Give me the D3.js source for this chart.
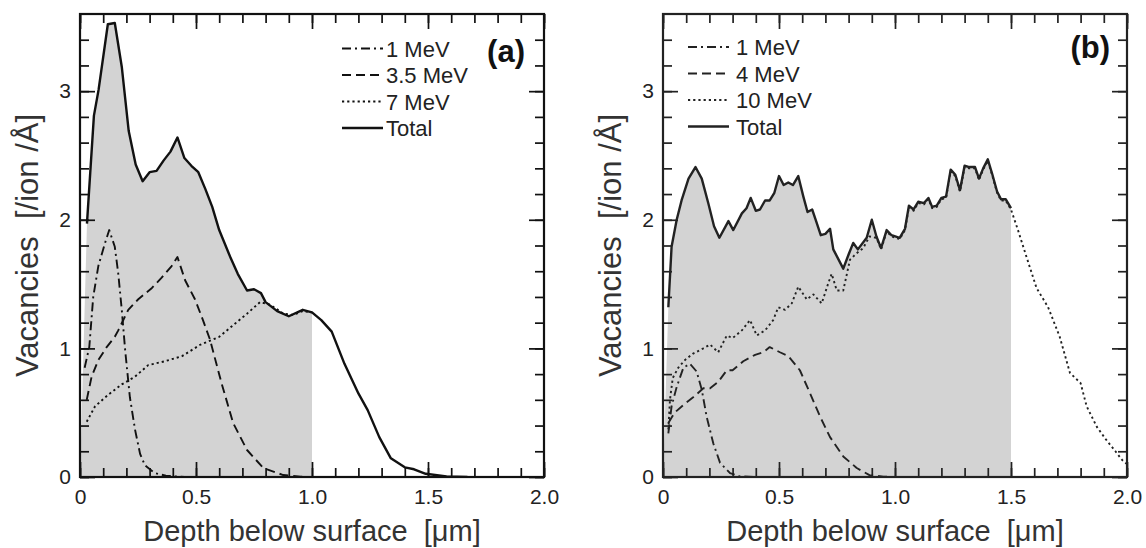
<!DOCTYPE html>
<html>
<head>
<meta charset="utf-8">
<script src="https://cdn.jsdelivr.net/npm/d3@7"></script>
<style>
    body { margin: 0; background: #fff; }
    svg { display: block; font-family: Arial, "Liberation Sans", sans-serif; }
</style>
</head>
<body>
<svg id="chart" width="1146" height="548"></svg>
<script>
// ---- panel (a) ----
var a1MeVX = [0.02, 0.04, 0.057, 0.079, 0.108, 0.126, 0.15, 0.165, 0.18, 0.195, 0.215, 0.237, 0.259, 0.28, 0.323, 0.37, 0.45];
var a1MeVY = [0.85, 1.01, 1.40, 1.64, 1.82, 1.92, 1.79, 1.58, 1.30, 0.98, 0.62, 0.37, 0.18, 0.09, 0.03, 0.01, 0.0];

var a35MeVX = [0.029, 0.05, 0.079, 0.115, 0.15, 0.165, 0.208, 0.25, 0.31, 0.352, 0.395, 0.42, 0.453, 0.496, 0.53, 0.56, 0.61, 0.66, 0.72, 0.79, 0.876, 0.95, 1.0];
var a35MeVY = [0.60, 0.78, 0.91, 1.01, 1.09, 1.14, 1.30, 1.38, 1.47, 1.55, 1.64, 1.71, 1.53, 1.38, 1.22, 1.07, 0.73, 0.42, 0.21, 0.07, 0.015, 0.003, 0.0];

var a7MeVX = [0.029, 0.065, 0.122, 0.18, 0.237, 0.294, 0.366, 0.44, 0.52, 0.60, 0.66, 0.72, 0.776, 0.82, 0.876, 0.92, 0.96, 1.0];
var a7MeVY = [0.43, 0.55, 0.64, 0.72, 0.78, 0.87, 0.90, 0.94, 1.03, 1.09, 1.18, 1.27, 1.36, 1.34, 1.27, 1.26, 1.29, 1.28];

var aTotalX = [0.03, 0.06, 0.08, 0.12, 0.15, 0.18, 0.21, 0.24, 0.27, 0.30, 0.33, 0.36, 0.39, 0.42, 0.45, 0.48, 0.51, 0.54, 0.57, 0.60,
    0.65, 0.68, 0.72, 0.75, 0.78, 0.80, 0.85, 0.90, 0.96, 1.00, 1.04, 1.085, 1.14, 1.20, 1.24, 1.29, 1.34, 1.40, 1.44, 1.49, 1.58, 1.67];
var aTotalY = [1.97, 2.81, 3.01, 3.52, 3.53, 3.19, 2.69, 2.43, 2.30, 2.37, 2.38, 2.46, 2.53, 2.64, 2.48, 2.42, 2.37, 2.24, 2.10, 1.92,
    1.70, 1.58, 1.45, 1.46, 1.43, 1.36, 1.29, 1.25, 1.30, 1.28, 1.22, 1.13, 0.88, 0.65, 0.52, 0.31, 0.145, 0.075, 0.06, 0.025, 0.005, 0.0];

// ---- panel (b) ----
var b1MeVX = [0.023, 0.037, 0.059, 0.088, 0.116, 0.145, 0.167, 0.188, 0.217, 0.246, 0.289, 0.33, 0.4];
var b1MeVY = [0.34, 0.55, 0.70, 0.85, 0.88, 0.82, 0.68, 0.47, 0.26, 0.11, 0.03, 0.005, 0.0];

var b4MeVX = [0.023, 0.05, 0.088, 0.13, 0.174, 0.203, 0.238, 0.275, 0.30, 0.346, 0.397, 0.432, 0.46, 0.504, 0.54, 0.59,
    0.634, 0.677, 0.72, 0.777, 0.835, 0.89, 0.95, 1.0];
var b4MeVY = [0.42, 0.50, 0.56, 0.62, 0.69, 0.69, 0.74, 0.83, 0.83, 0.90, 0.95, 0.97, 1.01, 0.97, 0.94, 0.83,
    0.65, 0.47, 0.31, 0.16, 0.07, 0.015, 0.003, 0.0];

var bTotalX = [0.023, 0.037, 0.059, 0.08, 0.11, 0.14, 0.167, 0.195, 0.22, 0.243, 0.282, 0.303, 0.34, 0.36, 0.378, 0.40, 0.418,
    0.44, 0.46, 0.48, 0.50, 0.52, 0.54, 0.56, 0.583, 0.605, 0.623, 0.643, 0.66, 0.68, 0.70, 0.72, 0.734, 0.777, 0.80, 0.82,
    0.84, 0.878, 0.90, 0.92, 0.94, 0.964, 0.985, 1.02, 1.043, 1.06, 1.08, 1.10, 1.125, 1.144, 1.16, 1.18, 1.20, 1.22, 1.24,
    1.26, 1.28, 1.30, 1.32, 1.345, 1.362, 1.38, 1.40, 1.42, 1.44, 1.457, 1.477, 1.50];
var bTotalY = [1.32, 1.79, 2.0, 2.15, 2.32, 2.41, 2.32, 2.13, 1.95, 1.86, 1.99, 1.92, 2.05, 2.09, 2.17, 2.07, 2.08,
    2.15, 2.15, 2.21, 2.34, 2.27, 2.29, 2.27, 2.34, 2.18, 2.06, 2.08, 1.99, 1.88, 1.89, 1.93, 1.77, 1.62, 1.73, 1.82,
    1.77, 1.86, 2.0, 1.87, 1.78, 1.92, 1.88, 1.86, 1.93, 2.11, 2.08, 2.14, 2.13, 2.17, 2.10, 2.11, 2.17, 2.18, 2.39,
    2.35, 2.23, 2.42, 2.41, 2.41, 2.32, 2.40, 2.47, 2.35, 2.22, 2.16, 2.16, 2.09];

// 10 MeV runs under the total between ~0.9 and 1.5, then continues alone
var b10MeVX = [0.023, 0.03, 0.042, 0.066, 0.095, 0.13, 0.174, 0.203, 0.238, 0.275, 0.30, 0.34, 0.375, 0.404, 0.44, 0.475,
    0.497, 0.526, 0.555, 0.583, 0.62, 0.648, 0.684, 0.713, 0.727, 0.749, 0.777, 0.806, 0.835, 0.863, 0.89,
    0.92, 0.94, 0.964, 0.985, 1.02, 1.043, 1.06, 1.08, 1.10, 1.125, 1.144, 1.16, 1.18, 1.20, 1.22, 1.24,
    1.26, 1.28, 1.30, 1.32, 1.345, 1.362, 1.38, 1.40, 1.42, 1.44, 1.457, 1.477, 1.50,
    1.53, 1.567, 1.61, 1.66, 1.71, 1.754, 1.80, 1.826, 1.87, 1.91, 1.95, 1.98, 2.0];
var b10MeVY = [0.37, 0.60, 0.77, 0.85, 0.91, 0.96, 1.0, 1.03, 0.97, 1.10, 1.08, 1.14, 1.22, 1.10, 1.14, 1.22,
    1.32, 1.30, 1.35, 1.48, 1.38, 1.42, 1.35, 1.51, 1.58, 1.45, 1.45, 1.69, 1.74, 1.78, 1.87,
    1.86, 1.77, 1.91, 1.87, 1.85, 1.92, 2.10, 2.07, 2.13, 2.12, 2.16, 2.09, 2.10, 2.16, 2.17, 2.38,
    2.34, 2.22, 2.41, 2.40, 2.40, 2.31, 2.39, 2.46, 2.34, 2.21, 2.15, 2.15, 2.08,
    1.92, 1.71, 1.47, 1.32, 1.09, 0.81, 0.73, 0.55, 0.39, 0.29, 0.20, 0.13, 0.10];

// ---- axes ----
var xMajor = [0, 0.5, 1.0, 1.5, 2.0];
var xTickLabels = ["0", "0.5", "1.0", "1.5", "2.0"];
var yMajor = [0, 1, 2, 3];
var yTickLabels = ["0", "1", "2", "3"];
var xMinor = d3.range(0, 21).map(function (i) { return i / 10; });
var yMinor = d3.range(0, 18).map(function (i) { return i / 5; });

var dashStyles = {
    dashdot: "9,4,2,4",
    dash: "9,5",
    dot: "2.2,3",
    solid: null
};

function zip(xs, ys) {
    return xs.map(function (x, i) { return {x: x, y: ys[i]}; });
}

function strokeFor(style) {
    return style == "solid" ? 2.4 : 1.9;
}

/**
 * One plot panel: frame, ticks, shaded total, curves and legend.
 */
var Panel = function (options) {
    this.initialize(options);
    this.build();
};

Panel.prototype.initialize = function (options) {
    for (var attr in options) {
        this[attr] = options[attr];
    }
    this.width = 464;
    this.top = 14;
    this.bottom = 477;
    this.x = d3.scaleLinear().domain([0, 2]).range([this.left, this.left + this.width]);
    this.y = d3.scaleLinear().domain([0, 3.6]).range([this.bottom, this.top]);
    this.g = d3.select("#chart").append("g");
};

Panel.prototype.build = function () {
    var thiz = this;
    var x = this.x, y = this.y, g = this.g;

    g.append("clipPath").attr("id", "clip" + this.id)
        .append("rect")
        .attr("x", this.left).attr("y", this.top)
        .attr("width", this.width).attr("height", this.bottom - this.top);

    // shaded region under the total up to the cut depth
    var fillPts = [{x: 0, y: 0}].concat(zip(this.totalX, this.totalY).filter(function (d) {
        return d.x <= thiz.fillTo;
    }));
    var last = fillPts[fillPts.length - 1];
    if (last.x < this.fillTo) fillPts.push({x: this.fillTo, y: last.y});

    g.append("path")
        .datum(fillPts)
        .attr("fill", "#d3d3d3")
        .attr("d", d3.area().x(function (d) { return x(d.x); }).y0(y(0)).y1(function (d) { return y(d.y); }));

    var line = d3.line().x(function (d) { return x(d.x); }).y(function (d) { return y(d.y); });
    var plot = g.append("g").attr("clip-path", "url(#clip" + this.id + ")");
    this.series.forEach(function (s) {
        plot.append("path")
            .datum(zip(s.x, s.y))
            .attr("fill", "none")
            .attr("stroke", thiz.ink)
            .attr("stroke-width", strokeFor(s.style))
            .attr("stroke-linejoin", "round")
            .attr("stroke-dasharray", dashStyles[s.style])
            .attr("d", line);
    });

    this.axes();
    this.legend();
};

Panel.prototype.axes = function () {
    var x = this.x, y = this.y, g = this.g, ink = this.ink;

    // bottom, top, left, right; ticks point inward
    var sides = [
        {make: d3.axisBottom, scale: x, at: "translate(0," + this.bottom + ")", major: xMajor, minor: xMinor, labels: xTickLabels},
        {make: d3.axisTop, scale: x, at: "translate(0," + this.top + ")", major: xMajor, minor: xMinor},
        {make: d3.axisLeft, scale: y, at: "translate(" + this.left + ",0)", major: yMajor, minor: yMinor, labels: yTickLabels},
        {make: d3.axisRight, scale: y, at: "translate(" + (this.left + this.width) + ",0)", major: yMajor, minor: yMinor}
    ];
    sides.forEach(function (s, k) {
        g.append("g").attr("transform", s.at)
            .call(s.make(s.scale).tickValues(s.minor).tickSize(-9).tickFormat(""))
            .call(function (sel) { sel.select(".domain").remove(); });

        var major = g.append("g").attr("transform", s.at)
            .call(s.make(s.scale).tickValues(s.major).tickSize(-15)
                .tickPadding(k < 2 ? 12 : 9)
                .tickFormat(function (d, i) { return s.labels ? s.labels[i] : ""; }))
            .call(function (sel) { sel.select(".domain").remove(); });
        major.selectAll("text")
            .attr("font-family", "Arial, 'Liberation Sans', sans-serif")
            .attr("font-size", 21)
            .attr("fill", "#222");
    });
    g.selectAll(".tick line").attr("stroke", ink).attr("stroke-width", 1.7);

    g.append("rect")
        .attr("x", this.left).attr("y", this.top)
        .attr("width", this.width).attr("height", this.bottom - this.top)
        .attr("fill", "none").attr("stroke", ink).attr("stroke-width", 2.2);

    g.append("text")
        .attr("transform", "translate(" + (this.left - 42) + "," + ((this.top + this.bottom) / 2) + ")rotate(-90)")
        .attr("text-anchor", "middle")
        .attr("font-size", 31)
        .attr("fill", "#333")
        .style("white-space", "pre")
        .text("Vacancies  [/ion /Å]");

    g.append("text")
        .attr("x", this.left + this.width / 2).attr("y", 541)
        .attr("text-anchor", "middle")
        .attr("font-size", 29)
        .attr("fill", "#333")
        .style("white-space", "pre")
        .text("Depth below surface  [μm]");

    g.append("text")
        .attr("x", this.tagX).attr("y", this.tagY)
        .attr("text-anchor", "end")
        .attr("font-size", 31)
        .attr("font-weight", "bold")
        .attr("fill", "#111")
        .text(this.tag);
};

Panel.prototype.legend = function () {
    var thiz = this;
    var rows = this.g.append("g");
    this.series.forEach(function (s, i) {
        var cy = thiz.legendY + i * 26.5;
        rows.append("line")
            .attr("x1", thiz.legendX).attr("x2", thiz.legendX + 41)
            .attr("y1", cy).attr("y2", cy)
            .attr("stroke", thiz.ink)
            .attr("stroke-width", strokeFor(s.style))
            .attr("stroke-dasharray", dashStyles[s.style]);
        rows.append("text")
            .attr("x", thiz.legendX + thiz.legendGap).attr("y", cy + 8)
            .attr("font-size", 22)
            .attr("fill", "#222")
            .text(s.name);
    });
};

new Panel({
    id: "a", left: 80, ink: "#111", tag: "(a)", tagX: 525, tagY: 62,
    legendX: 342, legendY: 48.5, legendGap: 44,
    totalX: aTotalX, totalY: aTotalY, fillTo: 1.0,
    series: [
        {name: "1 MeV", x: a1MeVX, y: a1MeVY, style: "dashdot"},
        {name: "3.5 MeV", x: a35MeVX, y: a35MeVY, style: "dash"},
        {name: "7 MeV", x: a7MeVX, y: a7MeVY, style: "dot"},
        {name: "Total", x: aTotalX, y: aTotalY, style: "solid"}
    ]
});

new Panel({
    id: "b", left: 663, ink: "#222", tag: "(b)", tagX: 1110, tagY: 58,
    legendX: 688, legendY: 47, legendGap: 48,
    totalX: bTotalX, totalY: bTotalY, fillTo: 1.5,
    series: [
        {name: "1 MeV", x: b1MeVX, y: b1MeVY, style: "dashdot"},
        {name: "4 MeV", x: b4MeVX, y: b4MeVY, style: "dash"},
        {name: "10 MeV", x: b10MeVX, y: b10MeVY, style: "dot"},
        {name: "Total", x: bTotalX, y: bTotalY, style: "solid"}
    ]
});
</script>
</body>
</html>
